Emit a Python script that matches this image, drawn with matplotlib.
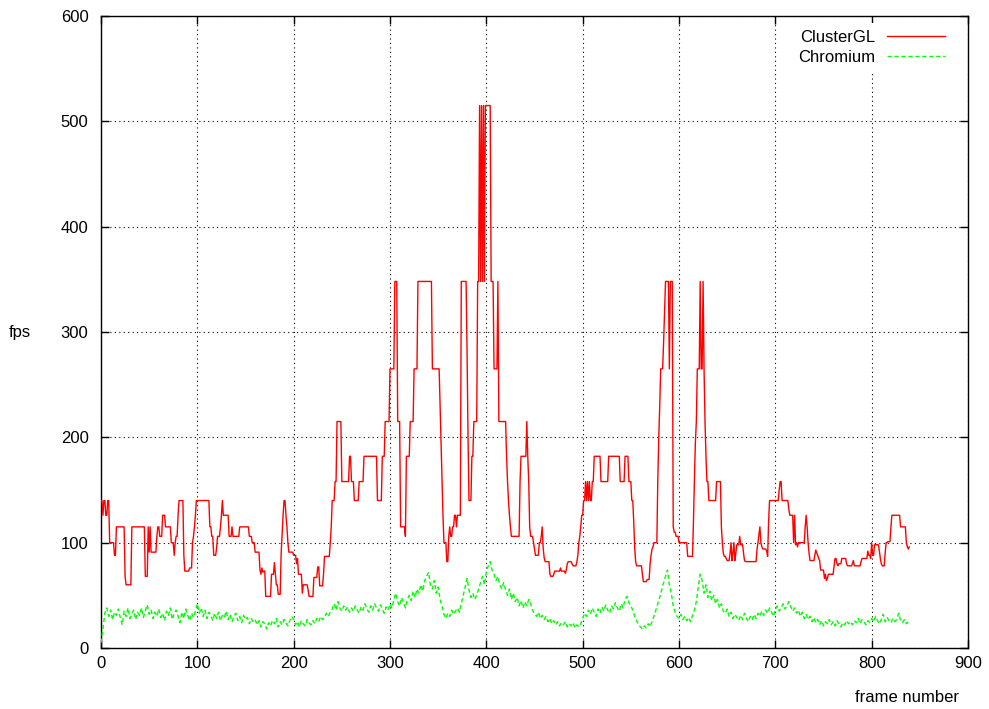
import numpy as np
import matplotlib
matplotlib.use("Agg")
import matplotlib.pyplot as plt

# ---- data ----
# ClusterGL: fps is stepwise; frames where the value changes and the new value
red_change_frames = [0, 2, 3, 5, 7, 9, 14, 16, 25, 26, 32, 46, 49, 50, 51, 52, 58, 59, 61, 64,
                     67, 73, 76, 77, 78, 80, 81, 86, 87, 92, 95, 96, 97, 98, 99, 113, 115, 117, 120, 121,
                     124, 125, 126, 127, 133, 136, 137, 144, 154, 157, 160, 165, 166, 167, 168, 169, 171, 177, 180, 181,
                     182, 184, 187, 188, 189, 190, 192, 193, 194, 195, 200, 203, 204, 205, 209, 210, 215, 216, 221, 225,
                     227, 231, 232, 238, 239, 240, 243, 245, 250, 258, 260, 263, 268, 273, 287, 292, 295, 300, 305, 308,
                     311, 316, 317, 321, 325, 329, 344, 352, 353, 354, 355, 356, 359, 361, 362, 363, 365, 367, 369, 370,
                     374, 380, 381, 382, 385, 387, 391, 393, 394, 395, 396, 397, 398, 399, 405, 408, 412, 413, 421, 422,
                     423, 424, 425, 426, 435, 436, 442, 443, 444, 445, 446, 449, 450, 451, 455, 457, 458, 459, 460, 461,
                     466, 467, 470, 471, 477, 478, 482, 483, 484, 485, 489, 490, 494, 495, 496, 497, 498, 499, 501, 503,
                     504, 505, 506, 507, 508, 510, 512, 519, 527, 539, 544, 548, 551, 553, 554, 555, 556, 562, 563, 567,
                     570, 571, 572, 573, 574, 578, 579, 580, 581, 584, 585, 586, 590, 591, 594, 595, 597, 600, 609, 615,
                     616, 617, 618, 619, 622, 623, 625, 626, 627, 628, 629, 631, 639, 644, 645, 646, 647, 649, 650, 653,
                     654, 655, 656, 657, 658, 659, 660, 663, 664, 667, 668, 669, 681, 682, 683, 684, 685, 686, 687, 691,
                     692, 693, 694, 704, 705, 707, 714, 715, 719, 720, 721, 722, 723, 724, 731, 732, 733, 734, 735, 736,
                     741, 742, 743, 744, 745, 746, 747, 751, 752, 753, 754, 755, 761, 762, 764, 765, 766, 769, 774, 775,
                     780, 781, 782, 789, 790, 796, 797, 799, 800, 801, 803, 808, 809, 810, 811, 814, 815, 817, 820, 821,
                     830, 836, 837, 838, 839]
red_change_values = [140, 126, 140, 126, 140, 100, 88, 115, 68, 60, 115, 68, 115, 91, 115, 91, 106, 115, 106, 126,
                     115, 100, 88, 100, 106, 126, 140, 88, 73, 76, 100, 106, 115, 126, 140, 115, 106, 88, 95, 106,
                     115, 126, 140, 126, 106, 115, 106, 115, 106, 100, 91, 74, 70, 76, 72, 73, 49, 70, 81, 70,
                     60, 51, 90, 108, 126, 140, 126, 115, 100, 91, 88, 80, 85, 70, 52, 60, 55, 49, 67, 77,
                     59, 70, 87, 100, 115, 140, 158, 215, 158, 182, 158, 140, 158, 182, 140, 182, 215, 265, 348, 215,
                     115, 106, 182, 215, 265, 348, 265, 230, 195, 160, 125, 100, 82, 106, 115, 106, 115, 126, 115, 126,
                     348, 280, 200, 140, 182, 215, 348, 515, 348, 515, 348, 515, 348, 515, 348, 265, 348, 215, 182, 158,
                     140, 126, 115, 106, 158, 182, 215, 182, 158, 115, 106, 100, 94, 88, 100, 106, 115, 95, 86, 82,
                     70, 68, 70, 73, 76, 73, 71, 74, 80, 82, 80, 78, 82, 88, 100, 106, 115, 126, 140, 158,
                     140, 158, 140, 158, 140, 158, 182, 158, 182, 158, 182, 158, 140, 120, 95, 82, 78, 70, 63, 65,
                     80, 88, 94, 96, 100, 160, 200, 230, 265, 290, 320, 348, 265, 348, 115, 110, 106, 100, 87, 120,
                     160, 195, 215, 265, 348, 265, 348, 265, 215, 182, 158, 140, 158, 115, 100, 90, 87, 85, 83, 90,
                     100, 83, 90, 100, 83, 90, 98, 106, 98, 90, 83, 82, 94, 100, 108, 115, 100, 96, 94, 92,
                     87, 120, 140, 150, 158, 140, 132, 126, 100, 126, 98, 100, 96, 100, 115, 126, 115, 100, 90, 83,
                     88, 93, 90, 88, 85, 83, 74, 66, 70, 64, 66, 70, 78, 85, 80, 78, 80, 85, 80, 78,
                     80, 83, 78, 82, 85, 92, 88, 85, 100, 88, 98, 92, 85, 80, 78, 90, 100, 101, 115, 126,
                     115, 100, 96, 94, 96]
red_last_frame = 839

# Chromium: fps sampled every 2 frames
green_step = 2
green_values = [5, 18, 33, 38, 30, 36, 27, 34, 31, 37,
                29, 22, 35, 30, 38, 28, 33, 36, 27, 34,
                31, 38, 29, 35, 41, 32, 36, 28, 34, 30,
                37, 29, 33, 26, 35, 31, 38, 27, 33, 36,
                30, 24, 34, 28, 37, 31, 26, 33, 29, 35,
                42, 33, 38, 30, 36, 28, 34, 31, 26, 33,
                28, 34, 26, 31, 29, 35, 27, 32, 25, 30,
                33, 26, 30, 24, 31, 27, 29, 23, 28, 25,
                27, 22, 26, 20, 25, 23, 18, 24, 21, 26,
                23, 28, 20, 25, 22, 27, 24, 21, 26, 30,
                27, 22, 25, 20, 26, 23, 21, 27, 24, 22,
                26, 23, 28, 25, 30, 27, 29, 33, 30, 34,
                37, 42, 36, 44, 38, 35, 40, 36, 39, 34,
                38, 35, 40, 36, 33, 39, 36, 42, 37, 34,
                40, 36, 42, 38, 35, 41, 37, 33, 39, 36,
                42, 38, 46, 52, 44, 40, 48, 43, 38, 46,
                50, 45, 54, 48, 56, 52, 60, 54, 64, 68,
                72, 60, 56, 64, 52, 58, 46, 40, 32, 28,
                33, 30, 36, 32, 35, 38, 34, 42, 50, 58,
                66, 55, 48, 52, 46, 50, 56, 62, 68, 60,
                72, 78, 82, 74, 70, 64, 68, 60, 56, 62,
                55, 50, 56, 46, 52, 44, 48, 40, 45, 38,
                44, 40, 46, 42, 36, 32, 30, 34, 28, 31,
                27, 30, 25, 28, 23, 26, 22, 25, 21, 24,
                22, 25, 20, 23, 21, 24, 19, 22, 20, 23,
                28, 33, 30, 36, 32, 38, 34, 30, 37, 33,
                39, 35, 41, 36, 33, 40, 37, 43, 38, 35,
                42, 38, 46, 49, 43, 40, 36, 30, 26, 22,
                20, 18, 21, 19, 23, 20, 25, 30, 36, 42,
                48, 55, 62, 68, 74, 60, 52, 40, 34, 30,
                28, 32, 27, 30, 26, 29, 25, 31, 36, 44,
                58, 70, 64, 52, 60, 48, 54, 45, 50, 42,
                46, 38, 42, 35, 33, 37, 30, 34, 28, 32,
                29, 26, 31, 27, 33, 28, 25, 30, 27, 32,
                28, 33, 30, 35, 31, 36, 33, 38, 34, 30,
                36, 40, 35, 38, 42, 37, 40, 44, 39, 35,
                38, 33, 36, 30, 34, 28, 32, 27, 30, 25,
                29, 24, 27, 22, 26, 21, 25, 23, 27, 22,
                25, 21, 26, 23, 20, 24, 22, 26, 23, 25,
                22, 26, 24, 28, 23, 27, 25, 22, 26, 24,
                28, 25, 30, 26, 23, 27, 32, 25, 29, 26,
                24, 28, 25, 27, 33, 26, 24, 27, 23, 25]

x_ticks = [0, 100, 200, 300, 400, 500, 600, 700, 800, 900]
y_ticks = [0, 100, 200, 300, 400, 500, 600]
series_labels = ["ClusterGL", "Chromium"]

# ---- build series (each frame takes the value of the last change) ----
red_x = np.arange(red_last_frame + 1)
idx = np.searchsorted(np.array(red_change_frames), red_x, side='right') - 1
red = np.array(red_change_values, dtype=float)[idx]
green = np.array(green_values, dtype=float)
green_x = np.arange(len(green)) * green_step

plt.rcParams['font.family'] = ['Liberation Sans', 'DejaVu Sans']

fig = plt.figure(figsize=(9.89, 7.09), dpi=100)
ax = fig.add_axes([101/989, 61/709, 867/989, 632/709])

ax.plot(red_x, red, color='#ff0000', lw=1.0, label=series_labels[0], zorder=3)
ax.plot(green_x, green, color='#00ff00', lw=1.0, linestyle=(0, (3, 2)),
        label=series_labels[1], zorder=3)

ax.set_xlim(0, 900)
ax.set_ylim(0, 600)
ax.set_xticks(x_ticks)
ax.set_yticks(y_ticks)
ax.grid(True, color='black', linestyle=(0, (1, 3)), lw=0.8, zorder=0)
ax.tick_params(direction='in', length=6, width=1, top=True, right=True,
               labelsize=12, colors='black')
ax.tick_params(axis='x', pad=6)
ax.tick_params(axis='y', pad=9)
for s in ax.spines.values():
    s.set_linewidth(1.0)
    s.set_color('black')

ax.set_ylabel('fps', rotation=0, fontsize=12)
ax.yaxis.set_label_coords(-0.0934, 0.5)
ax.yaxis.label.set_va('center')
ax.set_xlabel('frame number', fontsize=12)
ax.xaxis.set_label_coords(0.9296, -0.079)
ax.xaxis.label.set_va('center')

leg = ax.legend(loc='upper right', bbox_to_anchor=(0.981, 0.989), borderaxespad=0,
                markerfirst=False, frameon=True, fontsize=12, handlelength=3.5,
                handletextpad=0.7, labelspacing=0.3, borderpad=0.4)
leg.get_frame().set_facecolor('white')
leg.get_frame().set_edgecolor('none')
leg.get_frame().set_alpha(1.0)
leg.get_frame().set_boxstyle('square', pad=0)

fig.savefig('out.png', dpi=100)
